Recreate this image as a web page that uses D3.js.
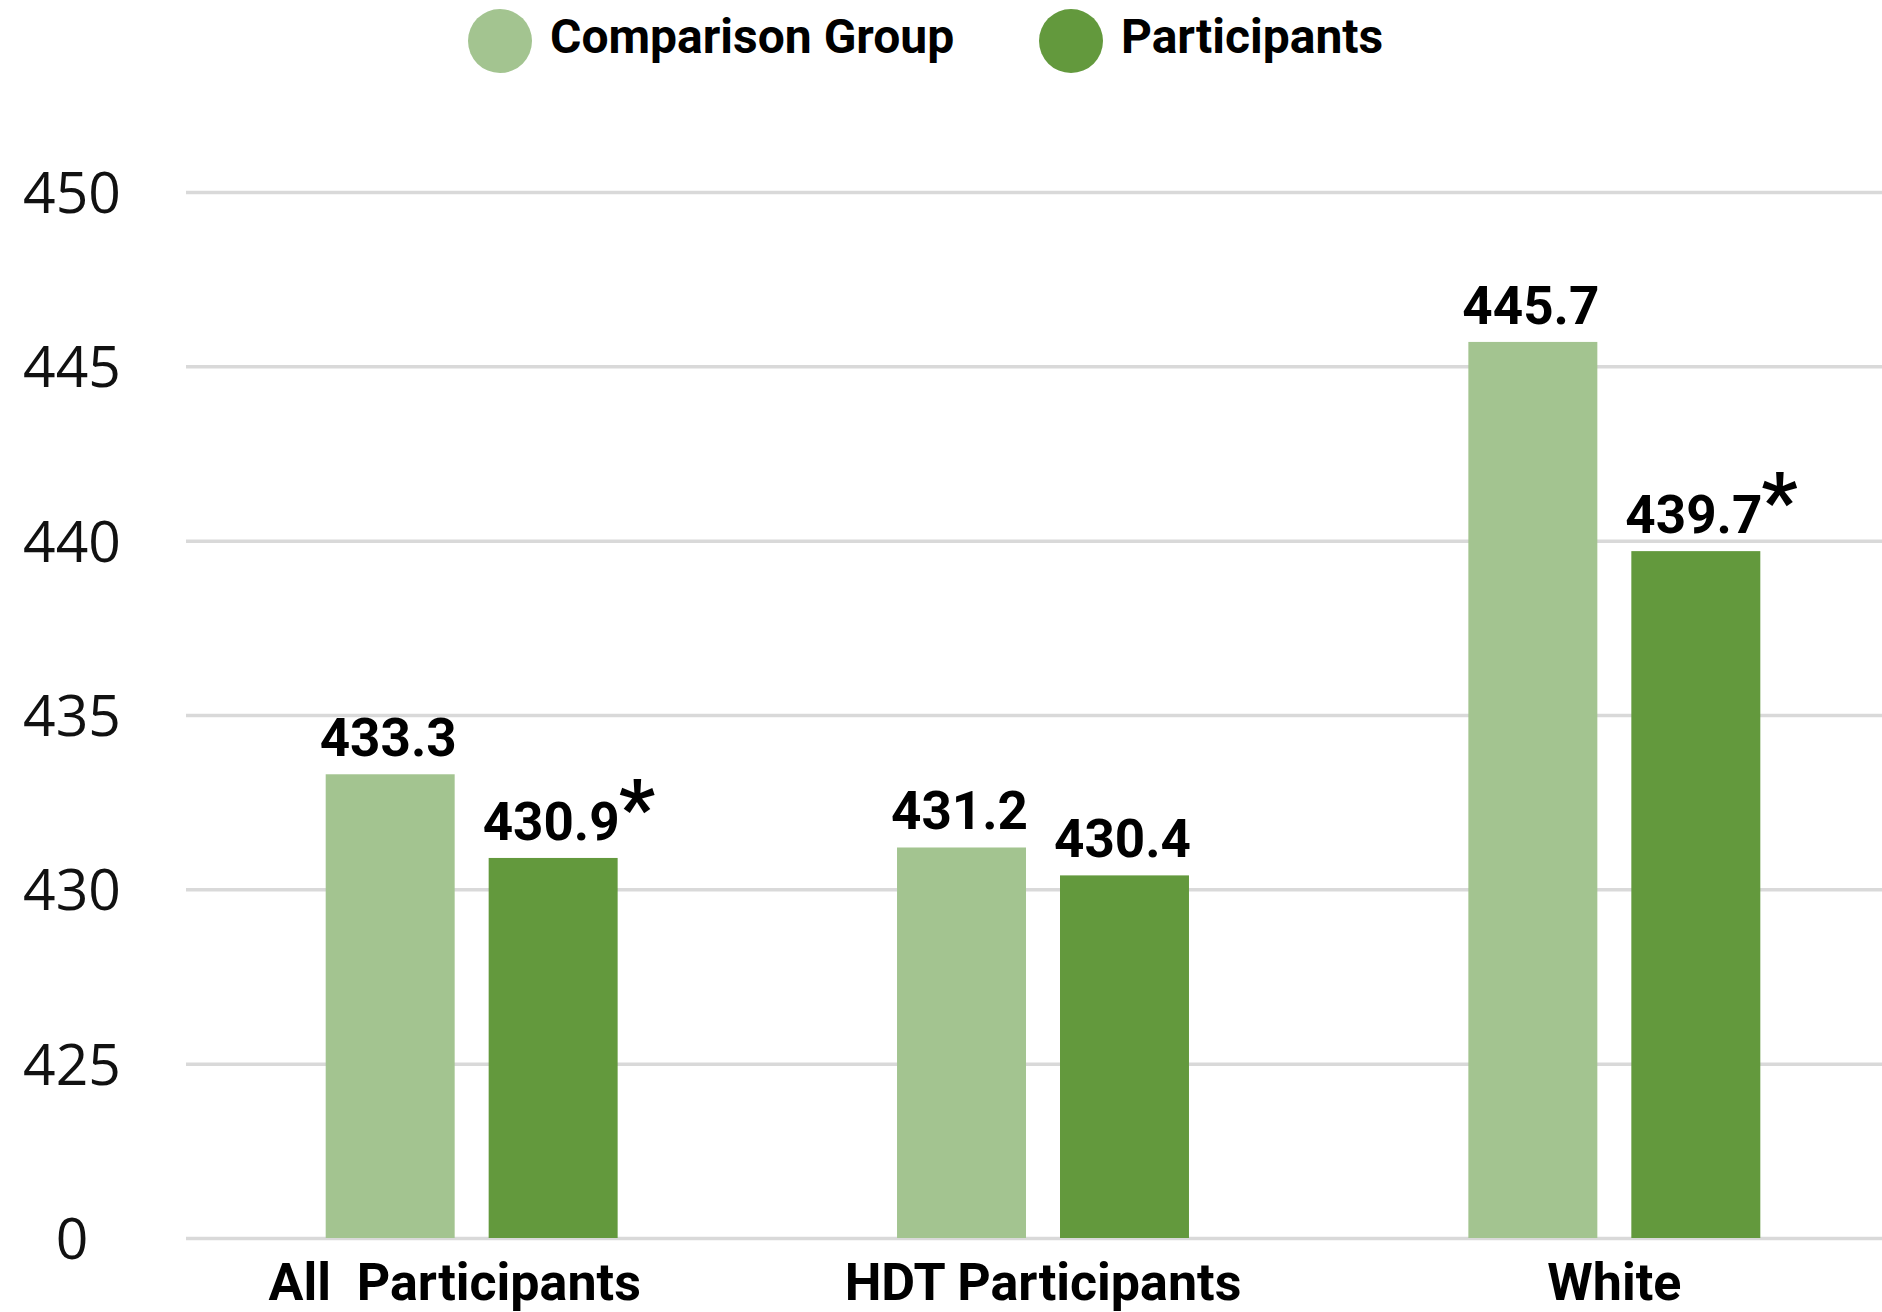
<!DOCTYPE html>
<html>
<head>
<meta charset="utf-8">
<script src="https://cdn.jsdelivr.net/npm/d3@7"></script>
<style>
  html, body { margin: 0; padding: 0; background: #fff; }
  svg { display: block; }
</style>
</head>
<body>
<svg id="chart" width="1882" height="1312"></svg>
<script>
// Groups along the x axis
const categories = ["All  Participants", "HDT Participants", "White"];
// Series shown in the legend
const seriesNames = ["Comparison Group", "Participants"];
// Mean scores per group
const comparisonValues = [433.3, 431.2, 445.7];
const participantValues = [430.9, 430.4, 439.7];
// Which participant results carry a significance marker
const participantSignificant = [true, false, true];
// Y axis ticks (the bottom line is the axis break, labelled 0)
const tickValues = [420, 425, 430, 435, 440, 445, 450];
const tickLabels = ["0", "425", "430", "435", "440", "445", "450"];

const colors = ["#a3c490", "#63993d"];

const svg = d3.select("#chart");

const plotLeft = 186, plotRight = 1900, plotTop = 192, plotBottom = 1238;

const y = d3.scaleLinear().domain([420, 450]).range([plotBottom, plotTop]);

const x0 = d3.scaleBand()
  .domain(categories)
  .range([plotLeft, plotRight])
  .paddingInner(0.489)
  .paddingOuter(0.2445);

const x1 = d3.scaleBand()
  .domain(seriesNames)
  .range([0, x0.bandwidth()])
  .paddingInner(0.2086)
  .paddingOuter(0);

// Gridlines with centred tick labels
const yAxis = svg.append("g")
  .attr("transform", `translate(${plotLeft},0)`)
  .call(d3.axisLeft(y)
    .tickValues(tickValues)
    .tickFormat((d, i) => tickLabels[i])
    .tickSize(-(plotRight - plotLeft))
    .tickPadding(0));
yAxis.select(".domain").remove();
yAxis.selectAll(".tick line")
  .attr("stroke", "#d9d9d9")
  .attr("stroke-width", 3.5);
yAxis.selectAll(".tick text")
  .attr("x", 72 - plotLeft)
  .attr("dy", "0.36em")
  .attr("text-anchor", "middle")
  .attr("fill", "#111")
  .style("font-family", "'Open Sans', 'Noto Sans', sans-serif")
  .style("font-size", "57px");

// Bars
const rows = categories.map((c, i) => ({
  category: c,
  values: [
    { series: seriesNames[0], value: comparisonValues[i], sig: false },
    { series: seriesNames[1], value: participantValues[i], sig: participantSignificant[i] }
  ]
}));

const groups = svg.append("g").selectAll("g")
  .data(rows)
  .join("g")
  .attr("transform", d => `translate(${x0(d.category)},0)`);

groups.selectAll("rect")
  .data(d => d.values)
  .join("rect")
  .attr("x", d => x1(d.series))
  .attr("width", x1.bandwidth())
  .attr("y", d => y(d.value))
  .attr("height", d => y(420) - y(d.value))
  .attr("fill", (d, i) => colors[i]);

// Value labels above bars
const labelFont = "Roboto, 'Liberation Sans', sans-serif";
groups.each(function(row) {
  const g = d3.select(this);
  row.values.forEach(v => {
    const cx = x1(v.series) + x1.bandwidth() / 2 - 2;
    const by = y(v.value) - 18;
    const t = g.append("text")
      .attr("x", cx)
      .attr("y", by)
      .attr("text-anchor", "middle")
      .style("font-family", labelFont)
      .style("font-weight", "700")
      .style("font-size", "53px")
      .attr("fill", "#000")
      .text(v.value.toFixed(1));
    if (v.sig) {
      const len = t.node().getComputedTextLength();
      g.append("text")
        .attr("x", cx + len / 2 - 1)
        .attr("y", by - 4)
        .style("font-family", labelFont)
        .style("font-weight", "700")
        .style("font-size", "80px")
        .attr("fill", "#000")
        .text("*");
    }
  });
});

// Category labels
const xAxis = svg.append("g")
  .attr("transform", `translate(0,${plotBottom})`)
  .call(d3.axisBottom(x0).tickSize(0));
xAxis.select(".domain").remove();
xAxis.selectAll(".tick text")
  .attr("y", 62)
  .attr("dy", null)
  .attr("dx", (d, i) => (i === 0 ? -17 : 0))
  .attr("fill", "#000")
  .style("white-space", "pre")
  .style("font-family", labelFont)
  .style("font-weight", "700")
  .style("font-size", "52px");

// Legend
const legend = svg.append("g");
const legendX = [500, 1071];
seriesNames.forEach((name, i) => {
  legend.append("circle")
    .attr("cx", legendX[i])
    .attr("cy", 41)
    .attr("r", 32)
    .attr("fill", colors[i]);
  legend.append("text")
    .attr("x", legendX[i] + 50)
    .attr("y", 53)
    .style("font-family", labelFont)
    .style("font-weight", "700")
    .style("font-size", "48px")
    .attr("fill", "#000")
    .text(name);
});
</script>
</body>
</html>
